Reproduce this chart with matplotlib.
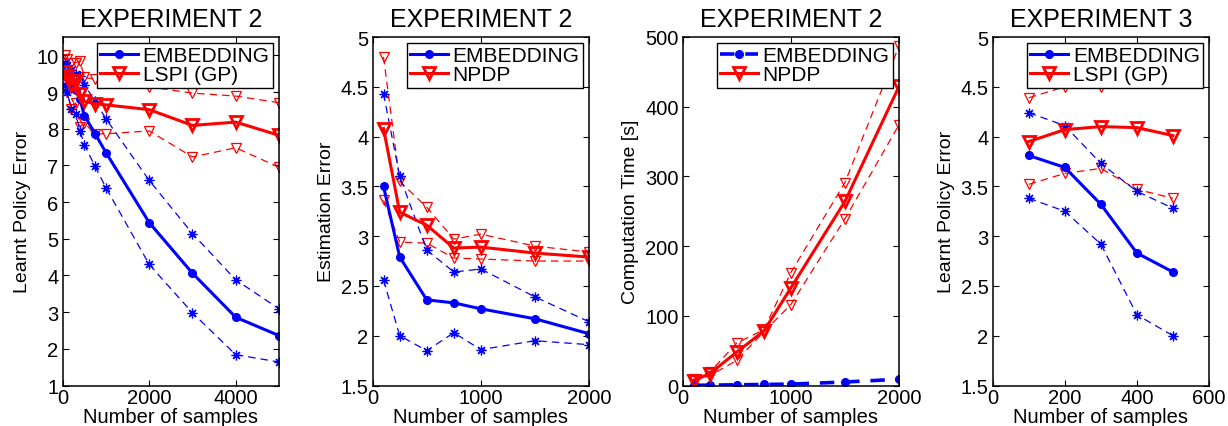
import numpy as np
import matplotlib
matplotlib.use("Agg")
import matplotlib.pyplot as plt

plt.rcParams['font.family'] = ['Liberation Sans', 'DejaVu Sans']

# ---- panel 1: experiment 2, learnt policy error ----
x1 = [50, 100, 200, 300, 400, 500, 750, 1000, 2000, 3000, 4000, 5000]
emb1 = [9.5, 9.4, 9.2, 9.05, 8.8, 8.36, 7.86, 7.35, 5.44, 4.06, 2.86, 2.36]
emb1_hi = [9.8, 9.75, 9.6, 9.5, 9.45, 9.2, 8.75, 8.27, 6.59, 5.14, 3.88, 3.09]
emb1_lo = [9.2, 9.0, 8.55, 8.4, 7.95, 7.56, 6.97, 6.39, 4.30, 2.98, 1.84, 1.64]
lspi1 = [9.55, 9.45, 9.2, 9.3, 8.95, 8.75, 8.68, 8.65, 8.52, 8.09, 8.18, 7.82]
lspi1_hi = [10.0, 9.9, 9.8, 9.8, 9.85, 9.4, 9.35, 9.3, 9.14, 8.97, 8.89, 8.71]
lspi1_lo = [9.1, 9.0, 8.55, 8.7, 8.05, 8.15, 7.86, 7.86, 7.94, 7.23, 7.48, 6.95]

# ---- panel 2: experiment 2, estimation error ----
x2 = [100, 250, 500, 750, 1000, 1500, 2000]
emb2 = [3.50, 2.79, 2.36, 2.33, 2.27, 2.17, 2.02]
emb2_hi = [4.43, 3.60, 2.86, 2.64, 2.67, 2.39, 2.14]
emb2_lo = [2.56, 2.00, 1.85, 2.03, 1.86, 1.95, 1.91]
npdp2 = [4.08, 3.24, 3.11, 2.88, 2.89, 2.83, 2.79]
npdp2_hi = [4.80, 3.55, 3.29, 2.97, 3.02, 2.90, 2.84]
npdp2_lo = [3.36, 2.94, 2.93, 2.78, 2.77, 2.75, 2.75]

# ---- panel 3: experiment 2, computation time ----
x3 = [100, 250, 500, 750, 1000, 1500, 2000]
emb3 = [0.3, 0.5, 1, 1.5, 2, 5, 9]
npdp3 = [7, 17, 48, 78, 140, 264, 429]
npdp3_hi = [10, 19, 61, 80, 162, 291, 487]
npdp3_lo = [6, 14, 36, 77, 116, 239, 374]

# ---- panel 4: experiment 3, learnt policy error ----
x4 = [100, 200, 300, 400, 500]
emb4 = [3.81, 3.69, 3.32, 2.83, 2.64]
emb4_hi = [4.24, 4.11, 3.73, 3.45, 3.28]
emb4_lo = [3.38, 3.25, 2.92, 2.21, 2.00]
lspi4 = [3.95, 4.07, 4.10, 4.09, 4.01]
lspi4_hi = [4.39, 4.50, 4.50, 4.60, 4.62]
lspi4_lo = [3.52, 3.63, 3.68, 3.47, 3.38]

fig = plt.figure(figsize=(12.28, 4.27), dpi=100)
lefts = [62.7, 372.7, 682.7, 992.7]
axes = [fig.add_axes([l / 1228, 40.5 / 427, 216.3 / 1228, 348.5 / 427]) for l in lefts]

dash = (6, 4)
asterisk = (8, 2, 0)   # matlab-like '*' marker


def band(ax, x, hi, lo, color, marker, ms):
    for y in (hi, lo):
        ax.plot(x, y, color=color, lw=0.9, dashes=dash, marker=marker,
                ms=ms, mfc='none', mew=0.9)


def emb_main(ax, x, y, ls='-', label='EMBEDDING'):
    ln, = ax.plot(x, y, color='b', lw=2.2, ls=ls, marker='o', ms=5.5,
                  mfc='b', mec='b', label=label)
    if ls != '-':
        ln.set_dashes((4, 3))
        ln.set_linewidth(2.6)
    return ln


def red_main(ax, x, y, label):
    return ax.plot(x, y, color='r', lw=2.2, marker='v', ms=8, mfc='none',
                   mec='r', mew=2.0, label=label)[0]


def style(ax, title, ylabel, xlim, xticks, ylim, yticks):
    ax.set_xlim(xlim)
    ax.set_ylim(ylim)
    ax.set_xticks(xticks)
    ax.set_yticks(yticks)
    ax.set_title(title, fontsize=18, pad=8)
    ax.set_xlabel('Number of samples', fontsize=14.5, labelpad=0)
    ax.set_ylabel(ylabel, fontsize=14, labelpad=4)
    ax.tick_params(direction='in', length=4, width=0.8, labelsize=14.5,
                   top=True, right=True, pad=2)
    ax.tick_params(axis='y', pad=3)
    for s in ax.spines.values():
        s.set_linewidth(1.1)


def legend(ax, handles):
    lg = ax.legend(handles=handles, loc='upper right', fontsize=15,
                   handlelength=1.8, handletextpad=0.25, borderpad=0.15,
                   labelspacing=0.0, borderaxespad=0.3, numpoints=1,
                   fancybox=False, framealpha=1, edgecolor='k')
    lg.get_frame().set_linewidth(1.0)
    lg.set_zorder(10)


# panel 1
ax = axes[0]
band(ax, x1, lspi1_hi, lspi1_lo, 'r', 'v', 7)
band(ax, x1, emb1_hi, emb1_lo, 'b', asterisk, 7)
h1 = emb_main(ax, x1, emb1)
h2 = red_main(ax, x1, lspi1, 'LSPI (GP)')
style(ax, 'EXPERIMENT 2', 'Learnt Policy Error', (0, 5000), [0, 2000, 4000],
      (1, 10.5), range(1, 11))
legend(ax, [h1, h2])

# panel 2
ax = axes[1]
band(ax, x2, npdp2_hi, npdp2_lo, 'r', 'v', 7)
band(ax, x2, emb2_hi, emb2_lo, 'b', asterisk, 7)
h1 = emb_main(ax, x2, emb2)
h2 = red_main(ax, x2, npdp2, 'NPDP')
style(ax, 'EXPERIMENT 2', 'Estimation Error', (0, 2000), [0, 1000, 2000],
      (1.5, 5), np.arange(1.5, 5.01, 0.5))
ax.set_yticklabels(['1.5', '2', '2.5', '3', '3.5', '4', '4.5', '5'])
legend(ax, [h1, h2])

# panel 3
ax = axes[2]
band(ax, x3, npdp3_hi, npdp3_lo, 'r', 'v', 7)
h1 = emb_main(ax, x3, emb3, ls='--')
h2 = red_main(ax, x3, npdp3, 'NPDP')
style(ax, 'EXPERIMENT 2', 'Computation Time [s]', (0, 2000), [0, 1000, 2000],
      (0, 500), range(0, 501, 100))
legend(ax, [h1, h2])

# panel 4
ax = axes[3]
band(ax, x4, lspi4_hi, lspi4_lo, 'r', 'v', 7)
band(ax, x4, emb4_hi, emb4_lo, 'b', asterisk, 7)
h1 = emb_main(ax, x4, emb4)
h2 = red_main(ax, x4, lspi4, 'LSPI (GP)')
style(ax, 'EXPERIMENT 3', 'Learnt Policy Error', (0, 600), [0, 200, 400, 600],
      (1.5, 5), np.arange(1.5, 5.01, 0.5))
ax.set_yticklabels(['1.5', '2', '2.5', '3', '3.5', '4', '4.5', '5'])
legend(ax, [h1, h2])

fig.savefig('out.png', dpi=100)
